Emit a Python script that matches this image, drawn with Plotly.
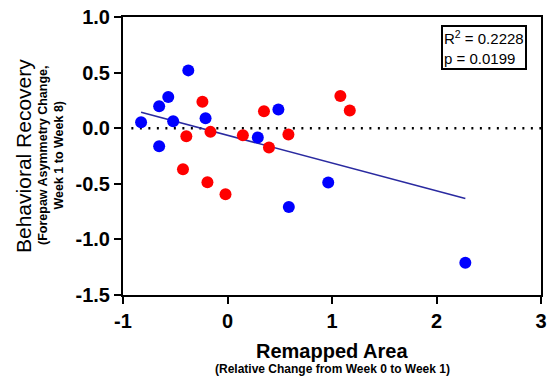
import numpy as np
import plotly.graph_objects as go

# Data
blue_x = [-0.827, -0.654, -0.567, -0.375, -0.52, -0.654, -0.21, 0.487, 0.29, 0.964, 0.587, 2.276]
blue_y = [0.054, 0.198, 0.28, 0.52, 0.063, -0.162, 0.09, 0.168, -0.084, -0.489, -0.709, -1.21]
red_x = [-0.24, -0.394, -0.163, 0.147, -0.426, -0.192, -0.019, 0.349, 0.583, 0.397, 1.08, 1.17]
red_y = [0.237, -0.072, -0.033, -0.063, -0.37, -0.486, -0.595, 0.153, -0.057, -0.174, 0.29, 0.16]
x_ticks = [-1, 0, 1, 2, 3]
y_ticks = [-1.5, -1.0, -0.5, 0.0, 0.5, 1.0]
stats_text = "R<sup>2</sup> = 0.2228<br>p = 0.0199"

all_x = np.array(blue_x + red_x)
all_y = np.array(blue_y + red_y)
slope, intercept = np.polyfit(all_x, all_y, 1)
fit_x = np.array([all_x.min(), all_x.max()])
fit_y = slope * fit_x + intercept

FONT = "Liberation Sans, Arial, Helvetica, sans-serif"

fig = go.Figure()
fig.add_trace(go.Scatter(x=fit_x, y=fit_y, mode="lines",
                         line=dict(color="#2a2aa0", width=1.6), showlegend=False))
fig.add_trace(go.Scatter(x=blue_x, y=blue_y, mode="markers",
                         marker=dict(color="#0000ff", size=12), showlegend=False))
fig.add_trace(go.Scatter(x=red_x, y=red_y, mode="markers",
                         marker=dict(color="#ff0000", size=12), showlegend=False))

fig.add_shape(type="line", xref="paper", yref="y", x0=0.02, x1=1, y0=0, y1=0,
              line=dict(color="black", width=2.5, dash="2px,6.5px"), layer="below")

axis_common = dict(showline=True, linecolor="black", linewidth=2, mirror=True,
                   ticks="outside", ticklen=7, tickwidth=2, tickcolor="black",
                   showgrid=False, zeroline=False, automargin=False,
                   tickfont=dict(family=FONT, size=20, color="black", weight="bold"))

fig.update_xaxes(range=[-1, 3], tickvals=x_ticks, ticktext=[str(v) for v in x_ticks], **axis_common)
fig.update_yaxes(range=[-1.5, 1.0], tickvals=y_ticks, ticktext=[f"{v:.1f}" for v in y_ticks], **axis_common)

fig.update_layout(
    width=548, height=379,
    margin=dict(l=123, r=7, t=17, b=84),
    plot_bgcolor="white", paper_bgcolor="white",
    font=dict(family=FONT, color="black"),
)

# Axis titles
fig.add_annotation(x=0.5, y=-0.2, xref="paper", yref="paper", showarrow=False,
                   text="Remapped Area", xanchor="center", yanchor="middle",
                   font=dict(family=FONT, size=20, color="black", weight="bold"))
fig.add_annotation(x=0.5, y=-0.267, xref="paper", yref="paper", showarrow=False,
                   text="(Relative Change from Week 0 to Week 1)", xanchor="center", yanchor="middle",
                   font=dict(family=FONT, size=12, color="black", weight="bold"))
fig.add_annotation(x=(23 - 123) / 418, y=0.5, xref="paper", yref="paper", showarrow=False,
                   text="Behavioral Recovery", textangle=-90, xanchor="center", yanchor="middle",
                   font=dict(family=FONT, size=21, color="black"))
fig.add_annotation(x=(51 - 123) / 418, y=0.5, xref="paper", yref="paper", showarrow=False,
                   text="(Forepaw Asymmetry Change,<br>Week 1 to Week 8)", textangle=-90,
                   xanchor="center", yanchor="middle",
                   font=dict(family=FONT, size=12.5, color="black", weight="bold"))

# Stats box
fig.add_annotation(x=(527 - 123) / 418, y=(295 - 25) / 278, xref="paper", yref="paper",
                   showarrow=False, text=stats_text, align="left",
                   xanchor="right", yanchor="top",
                   bordercolor="black", borderwidth=2, borderpad=1, bgcolor="white",
                   font=dict(family=FONT, size=15, color="black"))

fig.write_html("out.html")
